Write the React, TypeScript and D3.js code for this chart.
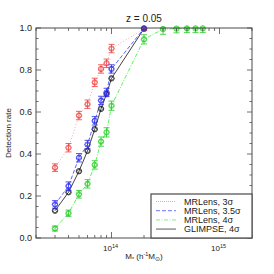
import { useEffect, useRef } from 'react'
import * as d3 from 'd3'

const masses = [3e13, 4e13, 5e13, 6e13, 7e13, 8e13, 9e13, 1e14, 2e14]
const greenMasses = [3e13, 4e13, 5e13, 6e13, 7e13, 8e13, 9e13, 1e14, 2e14, 3e14, 4e14, 5e14, 6e14, 7e14]

const rate3 = [0.335, 0.43, 0.583, 0.637, 0.741, 0.805, 0.832, 0.902, 0.995]
const err3 = [0.018, 0.02, 0.02, 0.02, 0.02, 0.02, 0.02, 0.02, 0.006]
const rate35 = [0.16, 0.247, 0.382, 0.445, 0.558, 0.655, 0.693, 0.805, 0.998]
const err35 = [0.018, 0.02, 0.02, 0.02, 0.02, 0.02, 0.02, 0.02, 0.006]
const rate4 = [0.045, 0.118, 0.208, 0.258, 0.348, 0.459, 0.503, 0.63, 0.946, 0.995, 0.997, 0.998, 0.998, 0.998]
const err4 = [0.012, 0.015, 0.018, 0.02, 0.02, 0.022, 0.022, 0.022, 0.022, 0.025, 0.02, 0.02, 0.02, 0.02]
const rateGlimpse = [0.13, 0.218, 0.318, 0.415, 0.518, 0.615, 0.686, 0.76, 0.997]
const errGlimpse = [0, 0, 0, 0, 0, 0, 0, 0, 0]

const yTicks = [0, 0.2, 0.4, 0.6, 0.8, 1.0]
const xDecades = [1e14, 1e15]

const series = [
  { name: 'MRLens, 3σ', x: masses, y: rate3, e: err3, color: '#f03c3c', line: '#ff8a8a', dash: '1,2', legend: '#ff9c9c' },
  { name: 'MRLens, 3.5σ', x: masses, y: rate35, e: err35, color: '#2a2aee', line: '#3a3aff', dash: '4,2', legend: '#7070ff' },
  { name: 'MRLens, 4σ', x: greenMasses, y: rate4, e: err4, color: '#22cc22', line: '#33ee33', dash: '4,1.5,1,1.5', legend: '#88ee88' },
  { name: 'GLIMPSE, 4σ', x: masses, y: rateGlimpse, e: errGlimpse, color: '#111111', line: '#111111', dash: null, legend: '#999999' },
]
// GLIMPSE is drawn underneath the MRLens curves
const drawOrder = [3, 0, 1, 2]

const W = 274
const H = 274

const Chart = () => {
  const svgRef = useRef(null)

  useEffect(() => {
    const left = 36
    const right = 252
    const top = 28
    const bottom = 238
    const font = 'Liberation Sans, Arial, sans-serif'
    const axisColor = '#4a4a4a'

    const x = d3.scaleLog().domain([2e13, 2e15]).range([left, right])
    const y = d3.scaleLinear().domain([0, 1]).range([bottom, top])

    const svg = d3.select(svgRef.current)
    svg.selectAll('*').remove()

    svg.append('rect').attr('width', W).attr('height', H).attr('fill', '#fff')

    // series lines, error bars and markers
    drawOrder.forEach((idx) => {
      const s = series[idx]
      const g = svg.append('g')
      const pts = s.x.map((m, i) => [m, s.y[i], s.e[i]])
      const line = d3
        .line()
        .x((d) => x(d[0]))
        .y((d) => y(d[1]))
      g.append('path')
        .attr('d', line(pts))
        .attr('fill', 'none')
        .attr('stroke', s.line)
        .attr('stroke-width', 0.8)
        .attr('stroke-dasharray', s.dash)

      pts.forEach((d) => {
        const cx = x(d[0])
        if (d[2] > 0) {
          const y0 = y(Math.max(0, d[1] - d[2]))
          const y1 = y(Math.min(1, d[1] + d[2]))
          g.append('path')
            .attr('d', `M${cx},${y0}V${y1}M${cx - 3},${y0}H${cx + 3}M${cx - 3},${y1}H${cx + 3}`)
            .attr('stroke', s.color)
            .attr('stroke-width', 0.8)
            .attr('fill', 'none')
        }
        const cy = y(d[1])
        g.append('circle')
          .attr('cx', cx)
          .attr('cy', cy)
          .attr('r', 2.7)
          .attr('fill', 'none')
          .attr('stroke', s.color)
          .attr('stroke-width', 0.8)
        g.append('path')
          .attr('d', `M${cx - 2.4},${cy}L${cx},${cy - 2.4}L${cx + 2.4},${cy}L${cx},${cy + 2.4}Z`)
          .attr('fill', 'none')
          .attr('stroke', s.color)
          .attr('stroke-width', 0.7)
      })
    })

    // frame
    svg.append('rect')
      .attr('x', left)
      .attr('y', top)
      .attr('width', right - left)
      .attr('height', bottom - top)
      .attr('fill', 'none')
      .attr('stroke', axisColor)
      .attr('stroke-width', 1)

    // y ticks (major + minor), left and right
    const yMinor = d3.range(0, 1.0001, 0.05)
    yMinor.forEach((v) => {
      const major = yTicks.some((t) => Math.abs(t - v) < 1e-6)
      const len = major ? 5 : 2.5
      svg.append('line').attr('x1', left).attr('x2', left + len).attr('y1', y(v)).attr('y2', y(v)).attr('stroke', axisColor).attr('stroke-width', 0.8)
      svg.append('line').attr('x1', right).attr('x2', right - len).attr('y1', y(v)).attr('y2', y(v)).attr('stroke', axisColor).attr('stroke-width', 0.8)
    })
    yTicks.forEach((v) => {
      svg.append('text')
        .attr('x', left - 4)
        .attr('y', y(v) + 3.3)
        .attr('text-anchor', 'end')
        .style('font-family', font)
        .style('font-size', '9px')
        .attr('fill', '#222')
        .text(v.toFixed(1))
    })

    // x ticks (log minor), bottom and top
    const xMinor = []
    ;[1e13, 1e14, 1e15].forEach((dec) => {
      for (let k = 1; k < 10; k++) {
        const v = dec * k
        if (v >= 2e13 && v <= 2e15) xMinor.push(v)
      }
    })
    xMinor.forEach((v) => {
      const major = xDecades.includes(v)
      const len = major ? 6 : 3
      svg.append('line').attr('x1', x(v)).attr('x2', x(v)).attr('y1', bottom).attr('y2', bottom - len).attr('stroke', axisColor).attr('stroke-width', 0.8)
      svg.append('line').attr('x1', x(v)).attr('x2', x(v)).attr('y1', top).attr('y2', top + len).attr('stroke', axisColor).attr('stroke-width', 0.8)
    })
    xDecades.forEach((v) => {
      const t = svg.append('text')
        .attr('x', x(v) - 1)
        .attr('y', bottom + 13)
        .attr('text-anchor', 'middle')
        .style('font-family', font)
        .style('font-size', '8px')
        .attr('fill', '#222')
      t.append('tspan').text('10')
      t.append('tspan').attr('dy', -3.5).style('font-size', '5.5px').text(String(Math.round(Math.log10(v))))
    })

    // legend
    const lg = svg.append('g')
    lg.append('rect')
      .attr('x', 151)
      .attr('y', 194)
      .attr('width', right - 151)
      .attr('height', bottom - 194)
      .attr('fill', '#fff')
      .attr('stroke', axisColor)
      .attr('stroke-width', 1.2)
    series.forEach((s, i) => {
      const ly = 201.5 + i * 9.2
      lg.append('line')
        .attr('x1', 156)
        .attr('x2', 176)
        .attr('y1', ly)
        .attr('y2', ly)
        .attr('stroke', s.legend)
        .attr('stroke-width', s.dash ? 1 : 1.6)
        .attr('stroke-dasharray', s.dash ? (s.dash === '1,2' ? '1,1' : s.dash) : null)
      lg.append('text')
        .attr('x', 184)
        .attr('y', ly + 3.3)
        .style('font-family', font)
        .style('font-size', '9px')
        .attr('fill', '#222')
        .text(s.name)
    })

    // title
    svg.append('text')
      .attr('x', 144)
      .attr('y', 22)
      .attr('text-anchor', 'middle')
      .style('font-family', font)
      .style('font-size', '10px')
      .attr('fill', '#222')
      .text('z = 0.05')

    // y label
    svg.append('text')
      .attr('transform', `translate(11,${(top + bottom) / 2}) rotate(-90)`)
      .attr('text-anchor', 'middle')
      .style('font-family', font)
      .style('font-size', '8px')
      .attr('fill', '#222')
      .text('Detection rate')

    // x label
    const xl = svg.append('text')
      .attr('x', 144)
      .attr('y', 259)
      .attr('text-anchor', 'middle')
      .style('font-family', font)
      .style('font-size', '8px')
      .attr('fill', '#222')
    xl.append('tspan').text('M')
    xl.append('tspan').attr('dy', 1.5).style('font-size', '5.5px').text('*')
    xl.append('tspan').attr('dy', -1.5).text(' (h')
    xl.append('tspan').attr('dy', -3).style('font-size', '5.5px').text('-1')
    xl.append('tspan').attr('dy', 3).text('M')
    xl.append('tspan').attr('dy', 1.5).style('font-size', '5.5px').text('⊙')
    xl.append('tspan').attr('dy', -1.5).text(')')
  }, [])

  return <svg ref={svgRef} width={W} height={H} />
}

export default function App() {
  return (
    <div style={{ position: 'absolute', left: 0, top: 0 }}>
      <Chart />
    </div>
  )
}
